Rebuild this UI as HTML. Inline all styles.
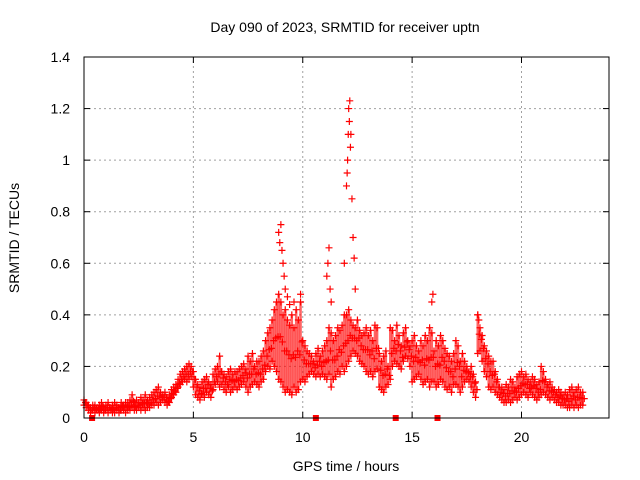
<!DOCTYPE html>
<html><head><meta charset="utf-8"><style>
body{margin:0;background:#fff}
svg{display:block;font-family:"Liberation Sans",sans-serif}
</style></head><body>
<svg id="chart" width="640" height="480">
<rect width="640" height="480" fill="#fff"/>
<text x="345" y="32" font-size="14" text-anchor="middle">Day 090 of 2023, SRMTID for receiver uptn</text>
<text x="346" y="471" font-size="14" text-anchor="middle">GPS time / hours</text>
<text transform="translate(19,238) rotate(-90)" font-size="14" text-anchor="middle">SRMTID / TECUs</text>
<g id="grid"></g><g id="marks"></g><g id="axes"></g>
</svg>
<script>
const xTicks=[0,5,10,15,20];
const yTicks=[0,0.2,0.4,0.6,0.8,1,1.2,1.4];
const yTickLabels=["0","0.2","0.4","0.6","0.8","1","1.2","1.4"];
const tStart=0, tStep=0.1;
const lo=[0.05,0.04,0.03,0.02,0.03,0.02,0.03,0.02,0.03,0.02,
0.03,0.02,0.03,0.02,0.02,0.03,0.02,0.03,0.03,0.02,
0.03,0.03,0.04,0.03,0.03,0.04,0.03,0.04,0.03,0.04,
0.04,0.05,0.05,0.06,0.05,0.06,0.07,0.06,0.05,0.06,
0.08,0.09,0.1,0.12,0.13,0.14,0.15,0.14,0.15,0.16,
0.12,0.09,0.08,0.07,0.09,0.08,0.1,0.09,0.08,0.11,
0.13,0.14,0.12,0.13,0.11,0.1,0.12,0.1,0.11,0.12,
0.11,0.12,0.13,0.14,0.12,0.1,0.12,0.13,0.14,0.13,
0.12,0.14,0.15,0.18,0.2,0.19,0.22,0.2,0.18,0.15,
0.14,0.12,0.1,0.11,0.1,0.09,0.12,0.1,0.11,0.14,
0.15,0.14,0.16,0.17,0.18,0.17,0.16,0.17,0.16,0.17,
0.16,0.15,0.17,0.12,0.15,0.16,0.18,0.17,0.2,0.18,
0.2,0.22,0.24,0.26,0.25,0.24,0.22,0.21,0.2,0.18,
0.17,0.18,0.16,0.18,0.19,0.12,0.11,0.1,0.12,0.13,
0.15,0.2,0.22,0.21,0.2,0.19,0.22,0.24,0.23,0.2,
0.14,0.15,0.16,0.17,0.15,0.13,0.14,0.15,0.12,0.14,
0.14,0.12,0.13,0.15,0.14,0.12,0.11,0.12,0.1,0.13,
0.13,0.12,0.1,0.12,0.14,0.15,0.14,0.12,0.1,0.08,
0.25,0.26,0.22,0.18,0.16,0.12,0.11,0.12,0.1,0.09,
0.08,0.07,0.06,0.06,0.07,0.06,0.07,0.08,0.07,0.08,
0.09,0.1,0.09,0.08,0.1,0.09,0.08,0.07,0.08,0.09,
0.1,0.09,0.08,0.07,0.08,0.07,0.06,0.06,0.05,0.05,
0.05,0.04,0.04,0.05,0.04,0.05,0.04,0.05,0.05];
const hi=[0.07,0.06,0.05,0.04,0.05,0.05,0.04,0.05,0.06,0.04,
0.05,0.06,0.04,0.05,0.06,0.05,0.04,0.06,0.05,0.06,
0.06,0.07,0.09,0.06,0.07,0.06,0.08,0.07,0.09,0.07,
0.08,0.09,0.1,0.11,0.12,0.1,0.09,0.1,0.08,0.09,
0.11,0.12,0.13,0.15,0.17,0.18,0.19,0.2,0.21,0.2,
0.18,0.15,0.13,0.12,0.14,0.15,0.16,0.14,0.13,0.17,
0.19,0.2,0.24,0.18,0.17,0.16,0.18,0.19,0.17,0.18,
0.18,0.19,0.2,0.21,0.19,0.24,0.22,0.25,0.2,0.22,
0.22,0.24,0.26,0.3,0.33,0.35,0.38,0.42,0.45,0.48,
0.45,0.4,0.42,0.38,0.36,0.4,0.35,0.42,0.38,0.45,
0.3,0.28,0.26,0.25,0.24,0.22,0.25,0.27,0.24,0.26,
0.28,0.3,0.35,0.33,0.3,0.32,0.35,0.34,0.36,0.4,
0.4,0.42,0.38,0.36,0.35,0.38,0.34,0.32,0.33,0.35,
0.32,0.34,0.3,0.36,0.35,0.25,0.22,0.24,0.26,0.2,
0.35,0.34,0.3,0.36,0.32,0.28,0.33,0.35,0.3,0.28,
0.3,0.32,0.28,0.26,0.3,0.28,0.32,0.3,0.35,0.33,
0.26,0.3,0.28,0.32,0.3,0.27,0.25,0.24,0.22,0.25,
0.3,0.28,0.22,0.25,0.22,0.2,0.18,0.2,0.17,0.14,
0.4,0.35,0.32,0.28,0.26,0.24,0.22,0.22,0.18,0.15,
0.12,0.12,0.11,0.13,0.12,0.15,0.14,0.12,0.16,0.17,
0.18,0.16,0.17,0.15,0.14,0.16,0.15,0.13,0.14,0.2,
0.18,0.15,0.13,0.14,0.12,0.11,0.1,0.11,0.1,0.09,
0.1,0.09,0.11,0.12,0.1,0.11,0.12,0.1,0.1];
const spikeT=[8.9,8.95,9.0,9.05,9.1,9.15,9.2,9.3,9.4,9.6,9.9,11.1,11.15,11.2,11.25,11.3,11.9,12.0,12.03,12.05,12.08,12.1,12.13,12.15,12.18,12.2,12.25,12.3,12.35,12.4,15.9,15.95,18.0,18.05];
const spikeV=[0.72,0.68,0.75,0.65,0.6,0.55,0.5,0.47,0.44,0.45,0.48,0.55,0.6,0.66,0.5,0.45,0.6,0.9,0.95,1.0,1.1,1.2,1.15,1.23,1.05,1.1,0.85,0.7,0.62,0.5,0.45,0.48,0.4,0.38];
const gapT=[0.37,10.6,14.25,16.16];

const X0=84,X1=609,Y0=418,Y1=57,XMAX=24,YMAX=1.4;
const xs=t=>X0+(X1-X0)*t/XMAX;
const ys=v=>Y0-(Y0-Y1)*v/YMAX;
const NS="http://www.w3.org/2000/svg";
function mk(tag,attrs,parent){const e=document.createElementNS(NS,tag);for(const k in attrs)e.setAttribute(k,attrs[k]);parent.appendChild(e);return e;}
const grid=document.getElementById('grid'),marks=document.getElementById('marks'),axes=document.getElementById('axes');

xTicks.forEach(t=>{
  if(t>0){const g=mk('line',{x1:xs(t),x2:xs(t),y1:Y0,y2:Y1,stroke:'#a0a0a0','stroke-dasharray':'2,3'},grid);
  
  }
  const l=mk('text',{x:xs(t),y:Y0+24,'font-size':14,'text-anchor':'middle'},axes);l.textContent=t;
  
  
  mk('line',{x1:xs(t),x2:xs(t),y1:Y0,y2:Y0-6,stroke:'#000'},axes);
  mk('line',{x1:xs(t),x2:xs(t),y1:Y1,y2:Y1+6,stroke:'#000'},axes);
});
yTicks.forEach((v,i)=>{
  if(v>0&&v<YMAX){const g=mk('line',{x1:X0,x2:X1,y1:ys(v),y2:ys(v),stroke:'#a0a0a0','stroke-dasharray':'2,3'},grid);
  
  }
  const l=mk('text',{x:X0-14,y:ys(v)+5,'font-size':14,'text-anchor':'end'},axes);l.textContent=yTickLabels[i];
  
  
  mk('line',{x1:X0,x2:X0+6,y1:ys(v),y2:ys(v),stroke:'#000'},axes);
  mk('line',{x1:X1,x2:X1-6,y1:ys(v),y2:ys(v),stroke:'#000'},axes);
});
const fr=mk('rect',{x:X0,y:Y1,width:X1-X0,height:Y0-Y1,fill:'none',stroke:'#000'},axes);



function cross(x,y){
  const p=mk('path',{d:`M${x-3.5},${y}h7M${x},${y-3.5}v7`,stroke:'#f00','stroke-width':1.2,fill:'none'},marks);
  
  
}
lo.forEach((v,i)=>{
  const t=tStart+i*tStep,x=xs(t);
  const b=mk('line',{x1:x,x2:x,y1:ys(v),y2:ys(hi[i]),stroke:'#f00','stroke-width':2.5,opacity:0.6},marks);
  
  
  cross(x,ys(v));cross(x,ys(hi[i]));cross(x+1.5,ys((v+hi[i])/2));
});
spikeT.forEach((t,i)=>cross(xs(t),ys(spikeV[i])));
gapT.forEach(t=>{
  const r=mk('rect',{x:xs(t)-3,y:Y0-3,width:6,height:6,fill:'#f00'},marks);
  
  
});
</script>
</body></html>
